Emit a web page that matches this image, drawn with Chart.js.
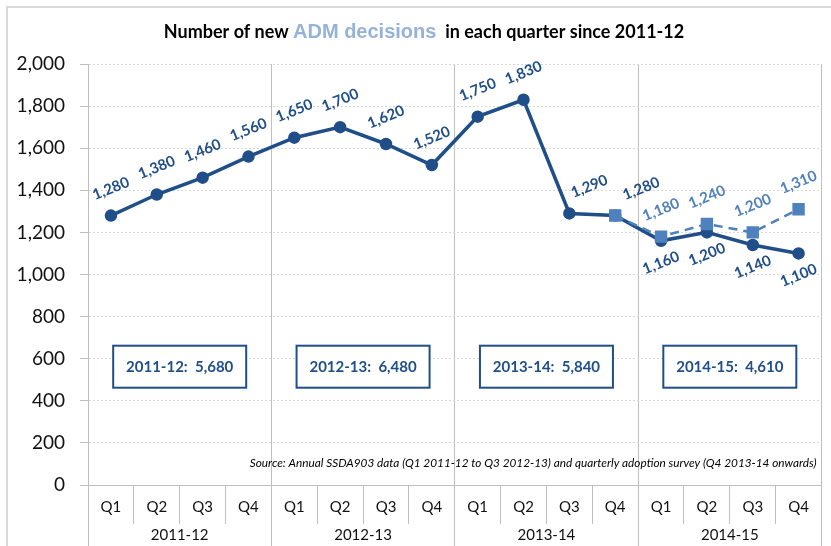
<!DOCTYPE html>
<html>
<head>
<meta charset="utf-8">
<script src="https://cdn.jsdelivr.net/npm/chart.js@4.4.1/dist/chart.umd.min.js"></script>
<style>
  html, body { margin: 0; padding: 0; background: #fff; }
</style>
</head>
<body>
<canvas id="adm" width="831" height="546"></canvas>
<script>
// data
const quarters = ['Q1', 'Q2', 'Q3', 'Q4', 'Q1', 'Q2', 'Q3', 'Q4', 'Q1', 'Q2', 'Q3', 'Q4', 'Q1', 'Q2', 'Q3', 'Q4'];
const years = ['2011-12', '2012-13', '2013-14', '2014-15'];
const ssdaValues = [1280, 1380, 1460, 1560, 1650, 1700, 1620, 1520, 1750, 1830, 1290, 1280, 1160, 1200, 1140, 1100];
const surveyValues = [null, null, null, null, null, null, null, null, null, null, null, 1280, 1180, 1240, 1200, 1310];
const yearTotals = [5680, 6480, 5840, 4610];

const DARK = '#1F4E89';
const LIGHT = '#4F81BD';
const FONT = 'Lato, "Open Sans", sans-serif';
const fmt = v => v.toLocaleString('en-US');

// white background + the thin grey frame Excel leaves round the chart
const frame = {
    id: 'frame',
    beforeDraw(chart) {
        const ctx = chart.ctx;
        ctx.save();
        ctx.fillStyle = '#fff';
        ctx.fillRect(0, 0, chart.width, chart.height);
        ctx.strokeStyle = '#D9D9D9';
        ctx.lineWidth = 2;
        ctx.beginPath();
        ctx.moveTo(7, chart.height);
        ctx.lineTo(7, 7);
        ctx.lineTo(chart.width, 7);
        ctx.stroke();
        ctx.restore();
    }
};

// title with the coloured middle part
const titlePlugin = {
    id: 'titlePlugin',
    afterDraw(chart) {
        const ctx = chart.ctx;
        const parts = [
            { t: 'Number of new ', font: 'bold 18px ' + FONT, color: '#000' },
            { t: 'ADM decisions', font: 'bold 20px "Liberation Sans", Arial, sans-serif', color: '#95B3D7' },
            { t: '  in each quarter since 2011-12', font: 'bold 18px ' + FONT, color: '#000' }
        ];
        ctx.save();
        ctx.textBaseline = 'middle';
        let total = 0;
        parts.forEach(p => { ctx.font = p.font; p.w = ctx.measureText(p.t).width; total += p.w; });
        let x = 424 - total / 2;
        parts.forEach(p => {
            ctx.font = p.font;
            ctx.fillStyle = p.color;
            ctx.fillText(p.t, x, 32);
            x += p.w;
        });
        ctx.restore();
    }
};

// value labels, tilted like the original
const pointLabels = {
    id: 'pointLabels',
    afterDatasetsDraw(chart) {
        const ctx = chart.ctx;
        ctx.save();
        ctx.font = 'bold 15px ' + FONT;
        ctx.textAlign = 'center';
        ctx.textBaseline = 'middle';
        chart.data.datasets.forEach((ds, di) => {
            const meta = chart.getDatasetMeta(di);
            ds.data.forEach((v, i) => {
                if (v == null) return;
                let dy = -27, dx = 0;
                if (di === 0) {
                    const other = surveyValues[i];
                    if (other != null && other !== v) dy = 22;
                    // keep the label off a steep incoming line / the join point
                    if (i > 0 && ds.data[i - 1] - v > 300) dx = 20;
                    if (other != null && other === v) dx = 26;
                } else if (v === ssdaValues[i]) {
                    return;
                }
                const p = meta.data[i];
                ctx.save();
                ctx.translate(p.x + dx, p.y + dy);
                ctx.rotate(-22 * Math.PI / 180);
                ctx.fillStyle = ds.borderColor;
                ctx.fillText(fmt(v), 0, 0);
                ctx.restore();
            });
        });
        ctx.restore();
    }
};

// yearly total boxes + source note
const extras = {
    id: 'extras',
    afterDatasetsDraw(chart) {
        const ctx = chart.ctx;
        const xs = chart.scales.x, ys = chart.scales.y;
        ctx.save();
        ctx.font = 'bold 15px ' + FONT;
        ctx.textAlign = 'center';
        ctx.textBaseline = 'middle';
        years.forEach((yr, k) => {
            const cx = (xs.getPixelForValue(k * 4) + xs.getPixelForValue(k * 4 + 3)) / 2;
            const cy = ys.getPixelForValue(562);
            const w = 133, h = 42;
            ctx.fillStyle = '#fff';
            ctx.fillRect(cx - w / 2, cy - h / 2, w, h);
            ctx.strokeStyle = DARK;
            ctx.lineWidth = 2;
            ctx.strokeRect(cx - w / 2, cy - h / 2, w, h);
            ctx.fillStyle = DARK;
            ctx.fillText(yr + ':  ' + fmt(yearTotals[k]), cx, cy);
        });

        ctx.font = 'italic 11.8px ' + FONT;
        ctx.textAlign = 'right';
        ctx.fillStyle = '#000';
        ctx.fillText('Source: Annual SSDA903 data (Q1 2011-12 to Q3 2012-13) and quarterly adoption survey (Q4 2013-14 onwards)',
            chart.chartArea.right - 5, chart.chartArea.bottom - 22);
        ctx.restore();
    }
};

new Chart(document.getElementById('adm'), {
    type: 'line',
    data: {
        labels: quarters,
        datasets: [
            {
                label: 'SSDA903',
                data: ssdaValues,
                borderColor: DARK,
                backgroundColor: DARK,
                borderWidth: 3.5,
                pointRadius: 4.5,
                pointStyle: 'circle',
                tension: 0,
                order: 1
            },
            {
                label: 'Survey',
                data: surveyValues,
                borderColor: LIGHT,
                backgroundColor: LIGHT,
                borderWidth: 2.5,
                borderDash: [9, 6],
                pointRadius: 7,
                pointStyle: 'rect',
                tension: 0,
                order: 0
            }
        ]
    },
    options: {
        responsive: false,
        animation: false,
        layout: { padding: { left: 10, top: 64, right: 4, bottom: 0 } },
        plugins: {
            legend: { display: false },
            tooltip: { enabled: false },
            title: { display: false }
        },
        scales: {
            x: {
                position: 'bottom',
                offset: true,
                grid: {
                    offset: true,
                    drawOnChartArea: false,
                    tickLength: 39,
                    tickColor: '#BFBFBF',
                    color: '#BFBFBF'
                },
                border: { color: '#BFBFBF', width: 1 },
                ticks: {
                    padding: -26,
                    color: '#111',
                    font: { family: FONT, size: 15 },
                    maxRotation: 0,
                    autoSkip: false
                },
                afterFit(s) { s.height = 33; }
            },
            x2: {
                type: 'category',
                labels: years,
                position: 'bottom',
                offset: true,
                grid: {
                    offset: true,
                    drawOnChartArea: true,
                    tickLength: 28,
                    color: '#BFBFBF',
                    tickColor: '#BFBFBF'
                },
                border: { display: false },
                ticks: {
                    padding: -20,
                    color: '#111',
                    font: { family: FONT, size: 15 },
                    maxRotation: 0,
                    autoSkip: false
                },
                afterFit(s) { s.height = 28; }
            },
            y: {
                min: 0,
                max: 2000,
                ticks: {
                    stepSize: 200,
                    padding: 15,
                    color: '#111',
                    font: { family: FONT, size: 19 },
                    callback: v => fmt(v)
                },
                grid: {
                    color: '#D9D9D9',
                    tickLength: 8,
                    tickColor: '#BFBFBF',
                    tickBorderDash: []
                },
                border: { color: '#BFBFBF', width: 1, dash: [2, 2] },
                afterFit(s) { s.width = 78; }
            }
        }
    },
    plugins: [frame, titlePlugin, pointLabels, extras]
});
</script>
</body>
</html>
